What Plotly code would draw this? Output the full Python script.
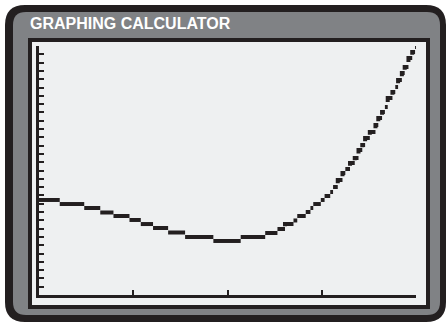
import plotly.graph_objects as go

# ---- data ----
# pixel-style curve: horizontal runs, start x and level y
run_x_start = [0.00, 0.22, 0.48, 0.65, 0.79, 0.96, 1.08, 1.21, 1.37, 1.55,
               1.85, 2.14, 2.40, 2.53, 2.61, 2.70, 2.74, 2.83, 2.88, 2.91,
               2.99, 3.03, 3.09, 3.12, 3.17, 3.22, 3.25, 3.30, 3.35, 3.39,
               3.43, 3.46, 3.51, 3.57, 3.60, 3.64, 3.67, 3.70, 3.75, 3.78,
               3.81, 3.85, 3.88, 3.92, 3.96, 3.99]
run_y = [11.45, 10.96, 10.48, 9.94, 9.52, 9.04, 8.55, 8.07, 7.53, 6.99,
         6.51, 6.99, 7.47, 7.95, 8.55, 8.98, 9.52, 10.00, 10.48, 10.96,
         11.45, 11.93, 12.41, 13.01, 13.86, 14.70, 15.18, 15.90, 16.51, 17.47,
         18.07, 18.92, 19.64, 20.48, 21.33, 22.05, 22.65, 23.73, 24.46, 25.06,
         25.90, 26.75, 27.47, 28.55, 29.28, 29.88]
x_max = 4.0
x_ticks = [1, 2, 3, 4]
y_max = 30
y_tick_step = 1
title_text = "GRAPHING CALCULATOR"

# ---- layout geometry ----
W, H = 448, 323
L, R, T, B = 39, 32, 46, 28
PW, PH = W - L - R, H - T - B


def fx(x):
    return (x - L) / PW


def fy(y):
    return 1 - (y - T) / PH


def rounded_rect(x0, y0, x1, y1, r):
    p = []
    p.append(f"M {fx(x0 + r)},{fy(y0)}")
    p.append(f"L {fx(x1 - r)},{fy(y0)}")
    p.append(f"Q {fx(x1)},{fy(y0)} {fx(x1)},{fy(y0 + r)}")
    p.append(f"L {fx(x1)},{fy(y1 - r)}")
    p.append(f"Q {fx(x1)},{fy(y1)} {fx(x1 - r)},{fy(y1)}")
    p.append(f"L {fx(x0 + r)},{fy(y1)}")
    p.append(f"Q {fx(x0)},{fy(y1)} {fx(x0)},{fy(y1 - r)}")
    p.append(f"L {fx(x0)},{fy(y0 + r)}")
    p.append(f"Q {fx(x0)},{fy(y0)} {fx(x0 + r)},{fy(y0)}")
    p.append("Z")
    return " ".join(p)


DARK = "#231f20"
GRAY = "#808285"
SCREEN = "#eef0f1"

# build the run segments (steep runs get a short vertical lead-in,
# like a calculator's connected pixel columns)
xs, ys = [], []
for i, (x0, y) in enumerate(zip(run_x_start, run_y)):
    x1 = run_x_start[i + 1] if i + 1 < len(run_x_start) else x_max
    if i > 0 and abs(y - run_y[i - 1]) > 0.6:
        y_mid = y - (y - run_y[i - 1]) * 0.45
        xs += [x0, x0, x1, None]
        ys += [y_mid, y, y, None]
    else:
        xs += [x0, x1, None]
        ys += [y, y, None]

fig = go.Figure()
fig.add_trace(go.Scatter(x=xs, y=ys, mode="lines",
                         line=dict(color=DARK, width=4),
                         connectgaps=False, hoverinfo="skip",
                         showlegend=False))

shapes = [
    dict(type="path", xref="paper", yref="paper", layer="below",
         path=rounded_rect(5, 5, 446, 322, 20), fillcolor=DARK,
         line=dict(width=0)),
    dict(type="path", xref="paper", yref="paper", layer="below",
         path=rounded_rect(13, 12, 440, 315, 13), fillcolor=GRAY,
         line=dict(width=0)),
    dict(type="rect", xref="paper", yref="paper", layer="below",
         x0=fx(30), x1=fx(428), y0=fy(40), y1=fy(307),
         fillcolor=SCREEN, line=dict(color=DARK, width=4)),
]

fig.update_layout(
    width=W, height=H,
    margin=dict(l=L, r=R, t=T, b=B),
    paper_bgcolor="white",
    plot_bgcolor="rgba(0,0,0,0)",
    shapes=shapes,
    showlegend=False,
    annotations=[dict(text=f"<b>{title_text}</b>", xref="paper", yref="paper",
                      x=fx(28), y=fy(23.5), xanchor="left", yanchor="middle",
                      showarrow=False,
                      font=dict(family="Liberation Sans, Arial", size=16,
                                color="white"))],
    xaxis=dict(range=[0, x_max], showgrid=False, zeroline=False,
               showline=True, linecolor=DARK, linewidth=3,
               ticks="inside", ticklen=5, tickwidth=2, tickcolor=DARK,
               tickvals=x_ticks, showticklabels=False, fixedrange=True),
    yaxis=dict(range=[0, y_max], showgrid=False, zeroline=False,
               showline=True, linecolor=DARK, linewidth=3,
               ticks="inside", ticklen=5, tickwidth=2, tickcolor=DARK,
               tick0=0, dtick=y_tick_step, showticklabels=False,
               fixedrange=True),
)

fig.write_html("out.html", config={"displayModeBar": False},
               post_script="document.body.style.margin='0';"
                           "document.body.style.overflow='hidden';")
